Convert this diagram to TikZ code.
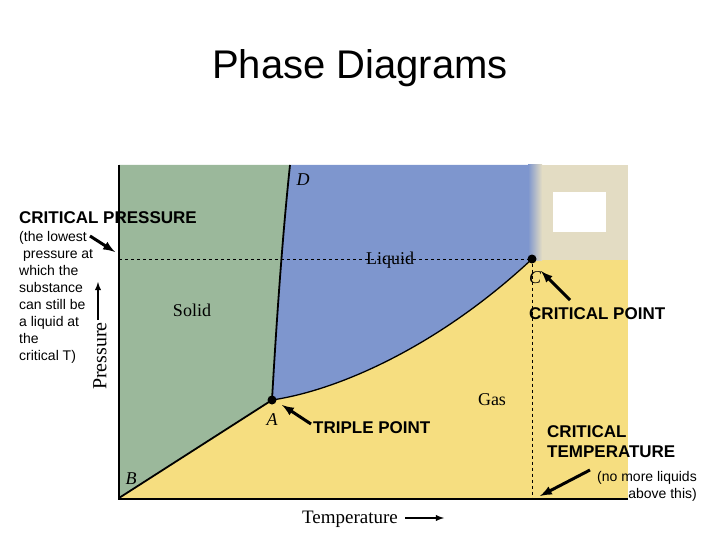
\documentclass[tikz,border=0pt]{standalone}
\usepackage{fontspec}
\setmainfont{Liberation Serif}
\newfontfamily\arial{Liberation Sans}
\begin{document}
\begin{tikzpicture}[x=1pt,y=-1pt,
  lab/.style={font=\arial\fontsize{14}{17}\selectfont,align=left,inner sep=0pt},
  blab/.style={font=\arial\bfseries\fontsize{17}{20}\selectfont,inner sep=0pt},
  it/.style={font=\itshape\fontsize{18}{18}\selectfont,inner sep=0pt},
  rm/.style={font=\fontsize{18}{18}\selectfont,inner sep=0pt},
  fat/.style={-latex,line width=3pt},
  dot/.style={circle,fill=black,inner sep=0pt,minimum size=9pt}]
\useasboundingbox (0,0) rectangle (720,540);
\definecolor{sol}{RGB}{155,184,155}
\definecolor{liq}{RGB}{126,150,206}
\definecolor{gas}{RGB}{246,222,128}
\definecolor{beige}{RGB}{227,220,195}
\node[font=\arial\fontsize{40}{40}\selectfont] (title) at (360,68) {Phase Diagrams};
% regions
\fill[gas] (119,165) rectangle (628,498);
\fill[beige] (540,165) rectangle (628,260);
\fill[white] (553,192) rectangle (606,232);
\fill[sol] (119,165) -- (290,165) .. controls (282,240) and (276,330) .. (272,400) -- (119,498) -- cycle;
\fill[liq] (290,165) -- (530,165) -- (530,260) .. controls (440,345) and (340,390) .. (272,400) .. controls (276,330) and (282,240) .. (290,165) -- cycle;
\shade[left color=liq,right color=beige] (528,165) rectangle (542,260);
% lines
\draw[line width=1.8pt] (290,165) .. controls (282,240) and (276,330) .. (272,400);
\draw[line width=1.8pt] (119,498) -- (272,400);
\draw[line width=1.3pt] (272,400) .. controls (340,390) and (440,345) .. (532,259);
\draw[line width=1.8pt] (119,165) -- (119,499) -- (628,499);
\node[dot] (A) at (272,400) {};
\node[dot] (C) at (532,259) {};
\coordinate (PL) at (119,259);
\coordinate (TB) at (532,498);
\draw[dashed] (PL) -- (C);
\draw[dashed] (C) -- (TB);
% labels
\node[it] (lD) at (303,180) {D};
\node[it] (lC) at (535,278) {C};
\node[it] (lA) at (272,420) {A};
\node[it] (lB) at (131,479) {B};
\node[rm] (liq) at (390,260) {Liquid};
\node[rm] (sol) at (192,310) {Solid};
\node[rm] (gas) at (492,400) {Gas};
\node[rm,font=\fontsize{20}{20}\selectfont,rotate=90] (pr) at (100,356) {Pressure};
\coordinate (pa1) at (98,320); \coordinate (pa2) at (98,282);
\draw[-latex,line width=1.8pt] (pa1) -- (pa2);
\node[rm,font=\fontsize{19}{19}\selectfont] (te) at (350,519) {Temperature};
\coordinate (ta1) at (405,518); \coordinate (ta2) at (444,518);
\draw[-latex,line width=1.8pt] (ta1) -- (ta2);
% annotations
\node[blab,anchor=west] (cp) at (19,218) {CRITICAL PRESSURE};
\node[lab,anchor=north west] (cpt) at (19,231) {(the lowest\\ \ pressure at\\which the\\substance\\can still be\\a liquid at\\the\\critical T)};
\coordinate (a1) at (90,236); \coordinate (a2) at (115,252);
\draw[fat] (a1) -- (a2);
\node[blab,anchor=west] (tp) at (313,428) {TRIPLE POINT};
\draw[fat] (tp.west) ++(-2,-4) coordinate (t1) -- (282,405);
\node[blab,anchor=west] (crp) at (529,314) {CRITICAL POINT};
\coordinate (c1) at (570,300);
\draw[fat] (c1) -- (541,271);
\node[blab,anchor=north west,align=left] (ct) at (547,425) {CRITICAL\\TEMPERATURE};
\node[lab,align=right,anchor=north east] (ctt) at (697,471) {(no more liquids\\above this)};
\coordinate (d1) at (590,470);
\draw[fat] (d1) -- (540,496);
\end{tikzpicture}
\end{document}
